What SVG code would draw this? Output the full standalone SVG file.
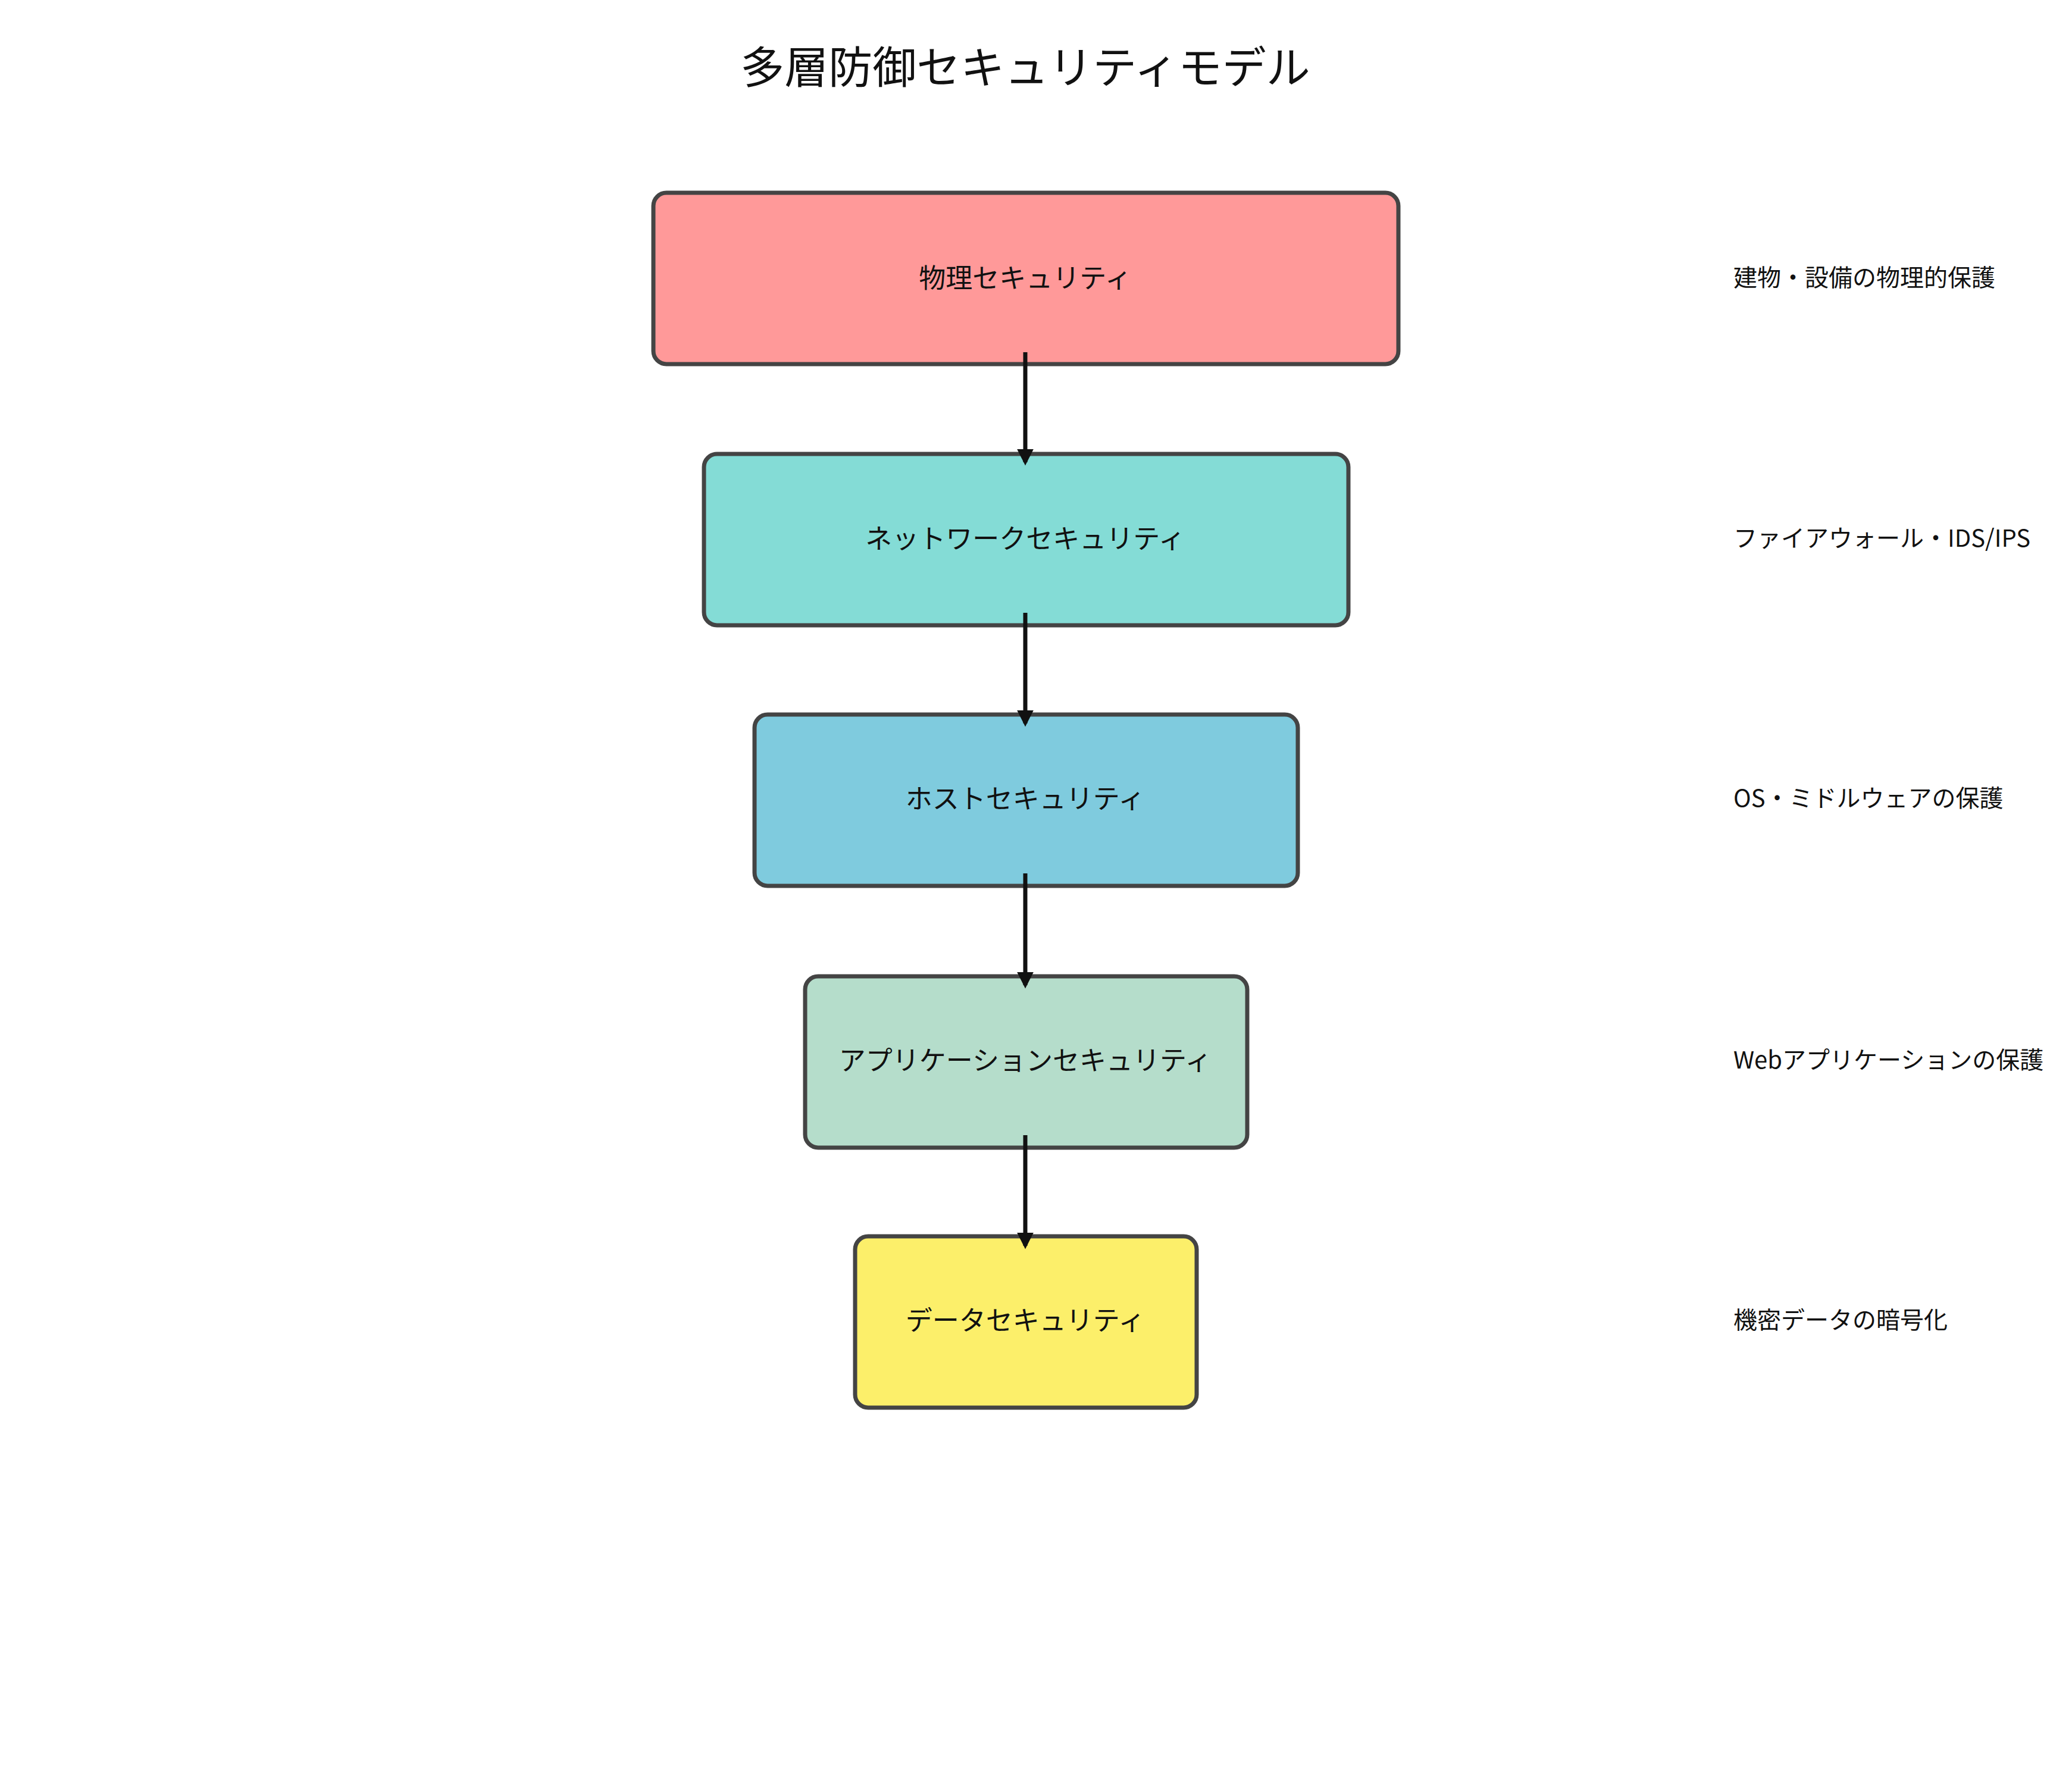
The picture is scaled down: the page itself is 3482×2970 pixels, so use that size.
<svg xmlns="http://www.w3.org/2000/svg" width="3482" height="2970" viewBox="0 0 3482 2970">
<style>
.box{stroke:#444;stroke-width:7}
.t{font-family:"Noto Sans CJK JP","Noto Sans",sans-serif;font-size:45px;fill:#111;text-anchor:middle;dominant-baseline:central}
.d{font-family:"Noto Sans CJK JP","Noto Sans",sans-serif;font-size:40px;fill:#111;dominant-baseline:central}
.c{stroke:#111;stroke-width:7;fill:none;marker-end:url(#ah)}
</style>
<defs><marker id="ah" viewBox="0 0 10 10" refX="8" refY="5" markerWidth="4" markerHeight="4" orient="auto"><path d="M0,0L10,5L0,10z" fill="#111"/></marker></defs>
<rect width="3482" height="2970" fill="#fff"/>
<text x="1723" y="107" class="t" style="font-size:74px">多層防御セキュリティモデル</text>
<g id="n1"><rect class="box" x="1098" y="324" width="1252" height="288" rx="22" fill="#FF9999"/><text class="t" x="1723" y="464">物理セキュリティ</text></g>
<g id="n2"><rect class="box" x="1183" y="763" width="1083" height="288" rx="22" fill="#84DCD6"/><text class="t" x="1723" y="902">ネットワークセキュリティ</text></g>
<g id="n3"><rect class="box" x="1268" y="1201" width="913" height="288" rx="22" fill="#7FCBDE"/><text class="t" x="1723" y="1339">ホストセキュリティ</text></g>
<g id="n4"><rect class="box" x="1353" y="1641" width="743" height="288" rx="22" fill="#B5DDCB"/><text class="t" x="1723" y="1779">アプリケーションセキュリティ</text></g>
<g id="n5"><rect class="box" x="1437" y="2078" width="574" height="288" rx="22" fill="#FCEF6A"/><text class="t" x="1723" y="2216">データセキュリティ</text></g>
<g id="labels">
<text class="d" x="2913" y="464">建物・設備の物理的保護</text>
<text class="d" x="2913" y="902">ファイアウォール・IDS/IPS</text>
<text class="d" x="2913" y="1339">OS・ミドルウェアの保護</text>
<text class="d" x="2913" y="1779">Webアプリケーションの保護</text>
<text class="d" x="2913" y="2216">機密データの暗号化</text>
</g>
<g id="connectors">
<path class="c" d="M1723,592V777"/>
<path class="c" d="M1723,1030V1216"/>
<path class="c" d="M1723,1468V1656"/>
<path class="c" d="M1723,1908V2094"/>
</g>
</svg>
